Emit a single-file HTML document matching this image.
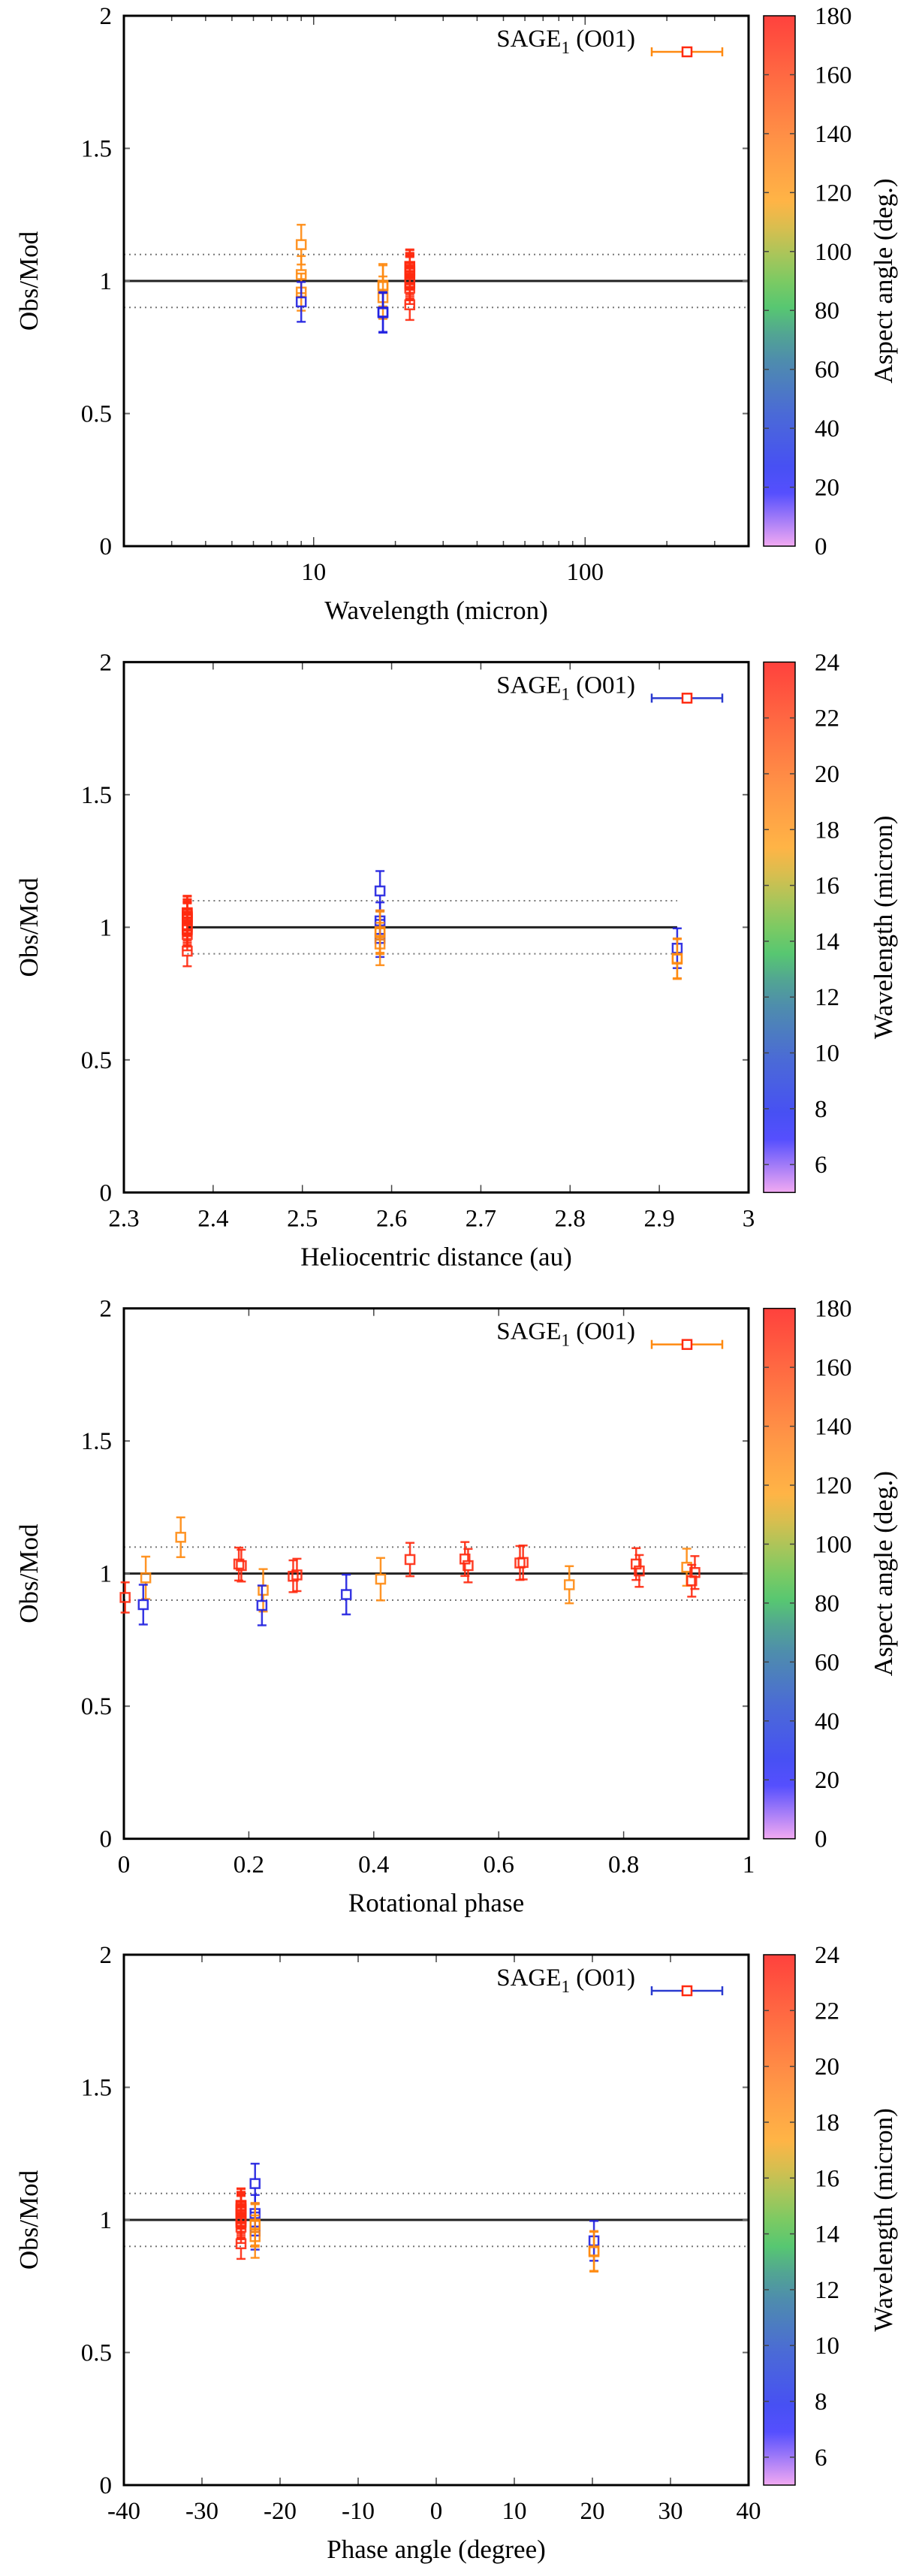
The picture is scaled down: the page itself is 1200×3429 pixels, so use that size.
<!DOCTYPE html>
<html><head><meta charset="utf-8"><style>
html,body{margin:0;padding:0;background:#fff}
svg{display:block}
text{font-family:"Liberation Serif","DejaVu Serif",serif;fill:#000}
</style></head><body>
<svg id="fig" width="1200" height="3429" viewBox="0 0 1200 3429" xmlns="http://www.w3.org/2000/svg"></svg>
<script>
// ---- data (one entry per observation) ----
const wavelength = [9,9,9,18,18,18, 9,18,18, 22.6,22.6,22.6,22.6,22.6,22.6,22.6,22.6,22.6,22.6,22.6,22.6,22.6,22.6];
const rhelio     = [2.587,2.587,2.587,2.587,2.587,2.587, 2.92,2.92,2.92, 2.371,2.371,2.371,2.371,2.371,2.371,2.371,2.371,2.371,2.371,2.371,2.371,2.371,2.371];
const rotPhase   = [0.091,0.901,0.713,0.035,0.411,0.223, 0.356,0.031,0.221, 0.002,0.184,0.188,0.271,0.277,0.458,0.546,0.551,0.634,0.639,0.820,0.825,0.909,0.914];
const phaseAngle = [-23.2,-23.2,-23.2,-23.2,-23.2,-23.2, 20.2,20.2,20.2, -25,-25,-25,-25,-25,-25,-25,-25,-25,-25,-25,-25,-25,-25];
const aspect     = [125,125,125,125,125,125, 22,22,22, 172,172,172,172,172,172,172,172,172,172,172,172,172,172];
const ratio      = [1.137,1.024,0.958,0.984,0.979,0.937, 0.921,0.883,0.880, 0.910,1.036,1.030,0.990,0.995,1.053,1.055,1.030,1.040,1.042,1.036,1.010,0.973,1.004];
const ratioErr   = [0.075,0.070,0.070,0.080,0.080,0.080, 0.075,0.075,0.075, 0.057,0.062,0.060,0.060,0.061,0.063,0.064,0.063,0.064,0.064,0.060,0.060,0.060,0.062];
const yTicks = [0,0.5,1,1.5,2];
const yTickLabels = ["0","0.5","1","1.5","2"];
const aspectTicks = [0,20,40,60,80,100,120,140,160,180];
const lamTicks = [6,8,10,12,14,16,18,20,22,24];
const rhTicks = [2.3,2.4,2.5,2.6,2.7,2.8,2.9,3];
const rotTicks = [0,0.2,0.4,0.6,0.8,1];
const alphaTicks = [-40,-30,-20,-10,0,10,20,30,40];

const NS="http://www.w3.org/2000/svg";
const svg=document.getElementById('fig');
function mk(tag,attrs,parent){const e=document.createElementNS(NS,tag);for(const k in attrs)e.setAttribute(k,attrs[k]);(parent||svg).appendChild(e);return e;}

const stops=[[0,[240,160,240]],[0.11,[50,50,255]],[0.25,[55,90,210]],[0.38,[60,140,150]],[0.46,[70,200,90]],[0.56,[170,190,70]],[0.64,[255,175,50]],[0.78,[255,130,50]],[1,[255,45,40]]];
function pal(t){t=Math.max(0,Math.min(1,t));for(let i=1;i<stops.length;i++){if(t<=stops[i][0]){const a=stops[i-1],b=stops[i];const f=(t-a[0])/(b[0]-a[0]);const c=a[1].map((v,j)=>Math.round(v+(b[1][j]-v)*f));return `rgb(${c[0]},${c[1]},${c[2]})`;}}return 'rgb(255,45,40)';}
function palPt(t){ // more saturated for points
  if(t<0.3) return '#2020e0'; if(t<0.8) return '#ff8a10'; return '#ff2a10';}

const L=165,R=997,H=706,CBL=1017,CBR=1059;
const panels=[
 {name:'wavelength',xs:wavelength,log:true,xmin:2,xmax:400,xticks:[10,100],xlabel:'Wavelength (micron)',cvals:aspect,cmin:0,cmax:180,cticks:aspectTicks,clabel:'Aspect angle (deg.)',legendColor:'#ff8a10',lineFull:true},
 {name:'heliocentric',xs:rhelio,log:false,xmin:2.3,xmax:3,xticks:rhTicks,xlabel:'Heliocentric distance (au)',cvals:wavelength,cmin:5,cmax:24,cticks:lamTicks,clabel:'Wavelength (micron)',legendColor:'#2a3ad0',lineFull:false},
 {name:'rotational',xs:rotPhase,log:false,xmin:0,xmax:1,xticks:rotTicks,xlabel:'Rotational phase',cvals:aspect,cmin:0,cmax:180,cticks:aspectTicks,clabel:'Aspect angle (deg.)',legendColor:'#ff8a10',lineFull:true},
 {name:'phase-angle',xs:phaseAngle,log:false,xmin:-40,xmax:40,xticks:alphaTicks,xlabel:'Phase angle (degree)',cvals:wavelength,cmin:5,cmax:24,cticks:lamTicks,clabel:'Wavelength (micron)',legendColor:'#2a3ad0',lineFull:true}
];
const defs=mk('defs',{});
panels.forEach((p,pi)=>{
  const T=21+pi*860.33, B=T+H;
  const g=mk('g',{});
  
  
  const xf=v=>p.log?L+(Math.log10(v/p.xmin)/Math.log10(p.xmax/p.xmin))*(R-L):L+(v-p.xmin)/(p.xmax-p.xmin)*(R-L);
  const yf=v=>B-v/2*H;
  // reference lines
  let x0=L,x1=R;
  if(!p.lineFull){x0=xf(Math.min(...p.xs));x1=xf(Math.max(...p.xs));}
  [0.9,1.1].forEach(v=>{const l=mk('line',{x1:x0,x2:x1,y1:yf(v),y2:yf(v),stroke:'#777','stroke-width':2,'stroke-dasharray':'2,5'},g);
    
    });
  const ml=mk('line',{x1:x0,x2:x1,y1:yf(1),y2:yf(1),stroke:'#222','stroke-width':3},g);
  
  
  // y ticks
  yTicks.forEach((v,i)=>{const y=yf(v);
    mk('line',{x1:L,x2:L+8,y1:y,y2:y,stroke:'#666','stroke-width':2},g);
    mk('line',{x1:R,x2:R-8,y1:y,y2:y,stroke:'#666','stroke-width':2},g);
    const t=mk('text',{x:L-16,y:y+11,'text-anchor':'end','font-size':33},g);t.textContent=yTickLabels[i];
    
    });
  // x ticks
  if(p.log){
    for(let d=1;d<=100;d*=10)for(let k=1;k<10;k++){const v=d*k;if(v<p.xmin||v>p.xmax)continue;const x=xf(v);const len=k===1?12:7;
      mk('line',{x1:x,x2:x,y1:B,y2:B-len,stroke:'#444','stroke-width':1.5},g);mk('line',{x1:x,x2:x,y1:T,y2:T+len,stroke:'#444','stroke-width':1.5},g);}
  } else {
    p.xticks.forEach(v=>{const x=xf(v);mk('line',{x1:x,x2:x,y1:B,y2:B-10,stroke:'#444','stroke-width':1.5},g);mk('line',{x1:x,x2:x,y1:T,y2:T+10,stroke:'#444','stroke-width':1.5},g);});
  }
  p.xticks.forEach(v=>{const t=mk('text',{x:xf(v),y:B+45,'text-anchor':'middle','font-size':33},g);t.textContent=String(v);
    
    });
  // frame
  const fr=mk('rect',{x:L,y:T,width:R-L,height:H,fill:'none',stroke:'#000','stroke-width':3},g);
  
  
  // labels
  const xl=mk('text',{x:(L+R)/2,y:B+97,'text-anchor':'middle','font-size':35},g);xl.textContent=p.xlabel;
  
  
  const yl=mk('text',{x:0,y:0,'text-anchor':'middle','font-size':35,transform:`translate(50,${(T+B)/2}) rotate(-90)`},g);yl.textContent='Obs/Mod';
  
  
  // points
  p.xs.forEach((xv,i)=>{
    const tcol=(p.cvals[i]-p.cmin)/(p.cmax-p.cmin);const col=palPt(tcol);
    const x=xf(xv),y=yf(ratio[i]),yt=yf(ratio[i]+ratioErr[i]),yb=yf(ratio[i]-ratioErr[i]);
    const pg=mk('g',{stroke:col,'stroke-width':2.5,fill:'none','stroke-opacity':0.9},g);
    
    
    mk('line',{x1:x,x2:x,y1:yt,y2:y-6},pg);mk('line',{x1:x,x2:x,y1:y+6,y2:yb},pg);
    mk('line',{x1:x-6,x2:x+6,y1:yt,y2:yt},pg);mk('line',{x1:x-6,x2:x+6,y1:yb,y2:yb},pg);
    mk('rect',{x:x-6,y:y-6,width:12,height:12},pg);
  });
  // legend
  const lg=mk('g',{},g);
  
  
  const lt=mk('text',{x:846,y:T+41,'text-anchor':'end','font-size':33},lg);
  lt.innerHTML='SAGE<tspan font-size="23" dy="9">1</tspan><tspan dy="-9"> (O01)</tspan>';
  const ly=T+48;
  mk('line',{x1:868,x2:962,y1:ly,y2:ly,stroke:p.legendColor,'stroke-width':2.5},lg);
  mk('line',{x1:868,x2:868,y1:ly-6,y2:ly+6,stroke:p.legendColor,'stroke-width':2.5},lg);
  mk('line',{x1:962,x2:962,y1:ly-6,y2:ly+6,stroke:p.legendColor,'stroke-width':2.5},lg);
  mk('rect',{x:909,y:ly-6,width:12,height:12,fill:'#fff',stroke:'#ff2a10','stroke-width':2.5},lg);
  // colorbar
  const gid='cb'+pi;const lgd=mk('linearGradient',{id:gid,x1:0,y1:1,x2:0,y2:0},defs);
  for(let k=0;k<=20;k++){mk('stop',{offset:k/20,'stop-color':pal(k/20)},lgd);}
  const cb=mk('rect',{x:CBL,y:T,width:CBR-CBL,height:H,fill:`url(#${gid})`,'fill-opacity':0.9,stroke:'#000','stroke-width':1.5},g);
  
  
  p.cticks.forEach(v=>{const y=B-(v-p.cmin)/(p.cmax-p.cmin)*H;
    if(v>p.cmin&&v<p.cmax){mk('line',{x1:CBL,x2:CBL+7,y1:y,y2:y,stroke:'#444','stroke-width':1.5},g);mk('line',{x1:CBR,x2:CBR-7,y1:y,y2:y,stroke:'#444','stroke-width':1.5},g);}
    const t=mk('text',{x:1085,y:y+11,'font-size':33},g);t.textContent=String(v);
    
    });
  const cl=mk('text',{x:0,y:0,'text-anchor':'middle','font-size':35,transform:`translate(1188,${(T+B)/2}) rotate(-90)`},g);cl.textContent=p.clabel;
  
  
});
</script>
</body></html>
